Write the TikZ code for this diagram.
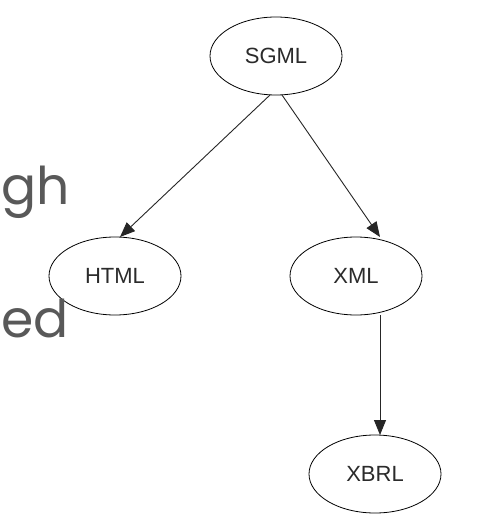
\documentclass[tikz,border=0pt]{standalone}
\usepackage{fontspec}
\setmainfont{Liberation Sans}
\newfontfamily\sidefont{Poppins}
\usetikzlibrary{shapes.geometric,arrows.meta}
\definecolor{txt}{HTML}{2b2b2b}
\definecolor{sidegray}{HTML}{595959}
\tikzset{
  gnode/.style={ellipse,draw=black,line width=0.8pt,minimum width=132pt,minimum height=78pt,inner sep=0pt,text=txt,font=\fontsize{22}{26}\selectfont},
  garrow/.style={draw=black!85,line width=0.9pt,-{Triangle[length=15pt,width=12pt]}},
  sidetext/.style={anchor=base west,inner sep=0pt,text=sidegray,font=\sidefont\fontsize{52}{60}\selectfont}
}
\begin{document}
\begin{tikzpicture}[x=1pt,y=-1pt]
\useasboundingbox[fill=white] (0,0) rectangle (479,518);
\node[gnode] (sgml) at (276,56) {SGML};
\node[gnode] (html) at (115,276) {HTML};
\node[gnode] (xml) at (356,276) {XML};
\node[gnode] (xbrl) at (375,474) {XBRL};
\coordinate (s1) at (270,95);
\coordinate (s2) at (282,95);
\coordinate (h1) at (120,237);
\coordinate (x1) at (380,237);
\coordinate (x2) at (380,315);
\coordinate (b1) at (380,435);
\draw[garrow] (s1) -- (h1);
\draw[garrow] (s2) -- (x1);
\draw[garrow] (x2) -- (b1);
\node[sidetext] (gh) at (1,205) {gh};
\node[sidetext] (ed) at (1,337) {ed};
\end{tikzpicture}
\end{document}
